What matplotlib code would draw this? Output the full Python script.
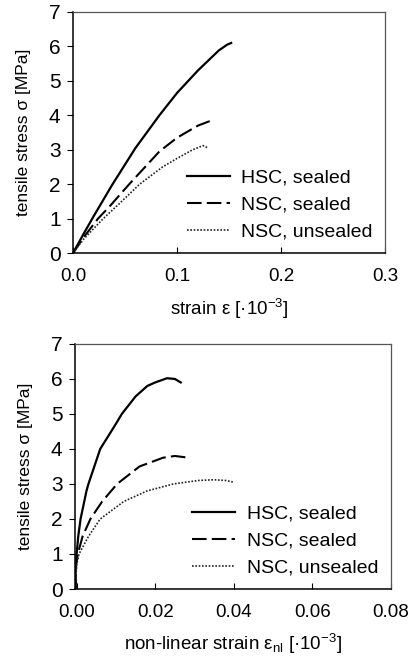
"""Tensile stress vs. strain for HSC / NSC specimens (two panels)."""

import matplotlib

matplotlib.use("Agg")
import matplotlib.pyplot as plt

plt.rcParams["font.family"] = ["Liberation Sans", "DejaVu Sans"]
plt.rcParams["mathtext.fontset"] = "custom"
plt.rcParams["mathtext.rm"] = "Liberation Sans"
plt.rcParams["mathtext.it"] = "Liberation Sans:italic"

LABELS = ["HSC, sealed", "NSC, sealed", "NSC, unsealed"]

# top panel: total strain [1e-3] vs stress [MPa]
hsc_strain = [0.0, 0.010, 0.020, 0.038, 0.060, 0.083, 0.100, 0.120, 0.140, 0.148, 0.152]
hsc_stress = [0.0, 0.55, 1.08, 2.0, 3.05, 4.0, 4.65, 5.3, 5.88, 6.05, 6.1]
nsc_strain = [0.0, 0.010, 0.024, 0.035, 0.054, 0.083, 0.100, 0.120, 0.133]
nsc_stress = [0.0, 0.45, 1.0, 1.35, 2.0, 2.95, 3.35, 3.7, 3.85]
nsu_strain = [0.0, 0.010, 0.029, 0.045, 0.064, 0.086, 0.100, 0.115, 0.125, 0.130]
nsu_stress = [0.0, 0.40, 1.0, 1.45, 2.0, 2.5, 2.75, 3.0, 3.12, 3.05]

# bottom panel: non-linear strain [1e-3] vs stress [MPa]
hsc_nl = [0.0, -0.0003, -0.0002, 0.0, 0.0004, 0.001, 0.0025, 0.003, 0.006, 0.0099,
          0.0115, 0.015, 0.018, 0.020, 0.023, 0.025, 0.0265]
hsc_nl_stress = [0.0, 0.3, 0.7, 1.0, 1.5, 2.0, 2.8, 3.0, 4.0, 4.7,
                 5.0, 5.5, 5.8, 5.9, 6.02, 6.0, 5.9]
nsc_nl = [0.0, -0.0003, -0.0001, 0.0003, 0.0015, 0.0035, 0.0065, 0.0103, 0.016,
          0.022, 0.025, 0.0285]
nsc_nl_stress = [0.0, 0.3, 0.7, 1.0, 1.5, 2.0, 2.5, 3.0, 3.5, 3.75, 3.8, 3.75]
nsu_nl = [0.0, -0.0002, 0.0, 0.0006, 0.003, 0.006, 0.012, 0.0179, 0.0246, 0.031,
          0.035, 0.038, 0.040]
nsu_nl_stress = [0.0, 0.3, 0.7, 1.0, 1.5, 2.0, 2.5, 2.8, 3.0, 3.1, 3.12, 3.1, 3.05]

STYLES = [
    dict(color="black", linestyle="-", linewidth=1.6),
    dict(color="black", linestyle=(0, (7, 2.5)), linewidth=1.5),
    dict(color="#222222", linestyle=(0, (1, 1)), linewidth=1.2),
]

def style_axes(ax):
    for side in ("top", "right"):
        ax.spines[side].set_color("#555555")
        ax.spines[side].set_linewidth(0.9)
    for side in ("left", "bottom"):
        ax.spines[side].set_linewidth(1.1)
    ax.tick_params(axis="x", direction="in", length=4, labelsize=13.5, pad=11)
    ax.tick_params(axis="y", direction="out", length=4, labelsize=15, pad=5)
    ax.set_ylim(0, 7)
    ax.set_yticks(range(0, 8))
    ax.set_ylabel("tensile stress σ [MPa]", fontsize=12.5, labelpad=13)

def draw_legend(ax):
    ax.legend(
        loc="lower right",
        bbox_to_anchor=(0.985, 0.02),
        frameon=False,
        fontsize=14,
        handlelength=2.2,
        handletextpad=0.6,
        labelspacing=0.48,
        borderaxespad=0.0,
    )

fig = plt.figure(figsize=(4.08, 6.66), dpi=100)

ax1 = fig.add_axes([0.179, 0.620, 0.765, 0.362])
for x, y, lab, st in zip(
    [hsc_strain, nsc_strain, nsu_strain],
    [hsc_stress, nsc_stress, nsu_stress],
    LABELS,
    STYLES,
):
    ax1.plot(x, y, label=lab, **st)
style_axes(ax1)
ax1.set_xlim(0, 0.3)
ax1.set_xticks([0.0, 0.1, 0.2, 0.3])
ax1.set_xticklabels(["0.0", "0.1", "0.2", "0.3"])
ax1.set_xlabel("strain ε [·10$^{-3}$]", fontsize=13.5, labelpad=8)
draw_legend(ax1)

ax2 = fig.add_axes([0.184, 0.1156, 0.774, 0.368])
for x, y, lab, st in zip(
    [hsc_nl, nsc_nl, nsu_nl],
    [hsc_nl_stress, nsc_nl_stress, nsu_nl_stress],
    LABELS,
    STYLES,
):
    ax2.plot(x, y, label=lab, **st)
style_axes(ax2)
ax2.set_xlim(-0.0004, 0.08)
ax2.set_xticks([0.0, 0.02, 0.04, 0.06, 0.08])
ax2.set_xticklabels(["0.00", "0.02", "0.04", "0.06", "0.08"])
ax2.set_xlabel("non-linear strain ε$_{\\mathrm{nl}}$ [·10$^{-3}$]", fontsize=13.5, labelpad=8)
draw_legend(ax2)

fig.savefig("out.png", dpi=100)
